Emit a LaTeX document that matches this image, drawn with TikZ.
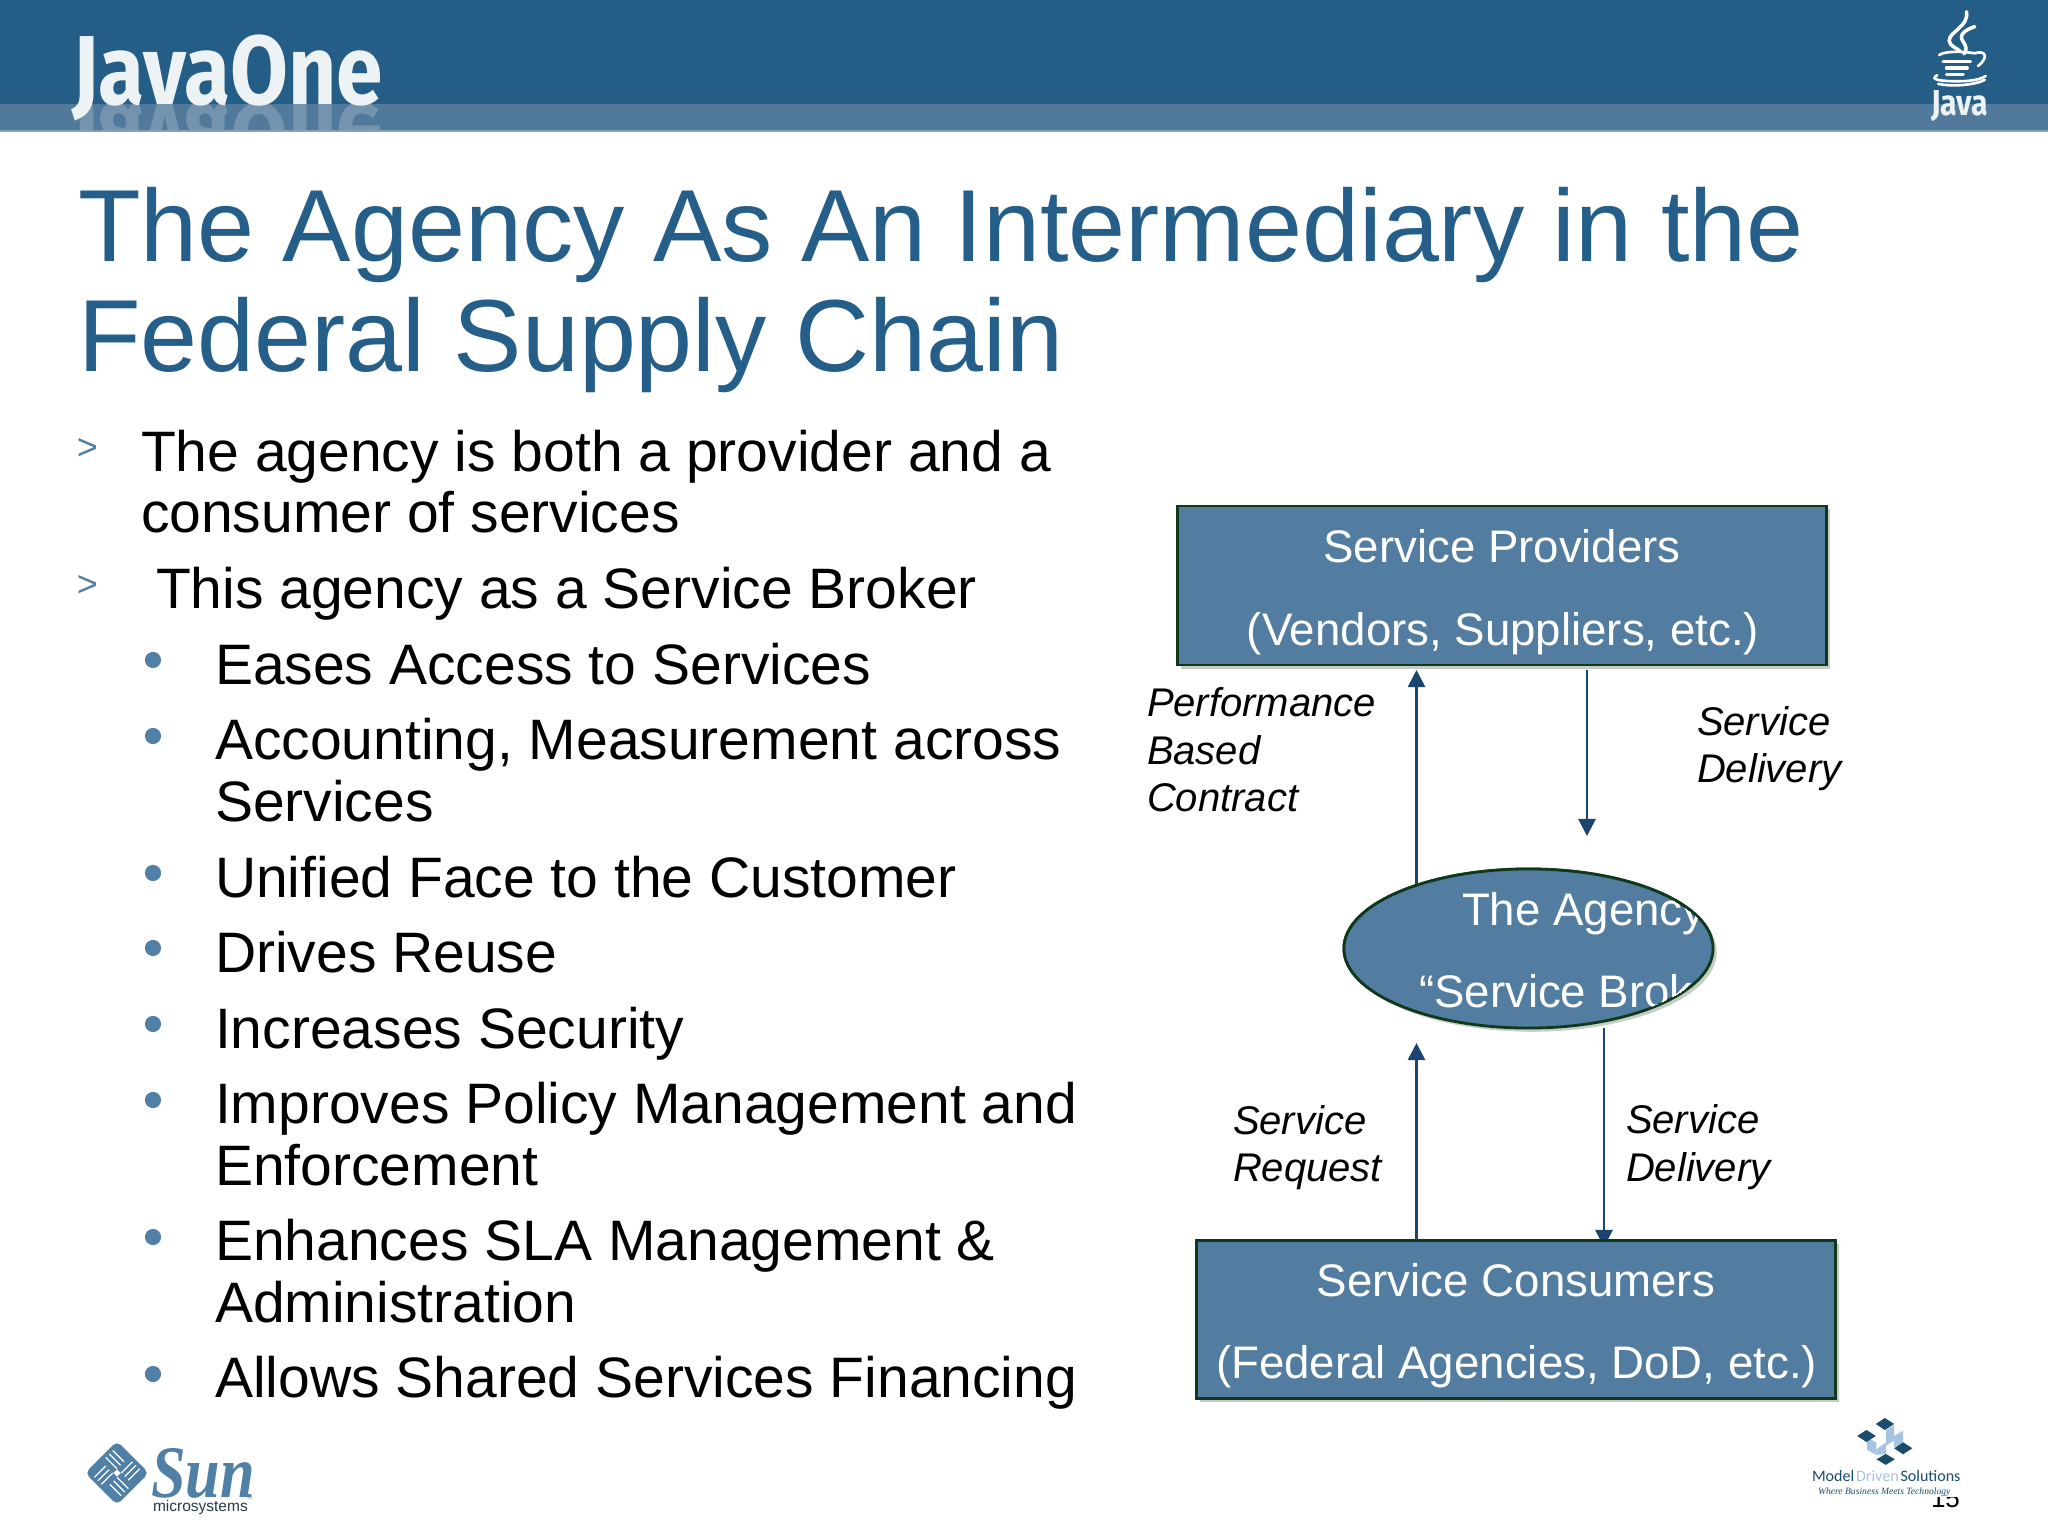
\documentclass[tikz,border=0pt]{standalone}
\usepackage{fontspec}
\setmainfont{Liberation Sans}
\newfontfamily\logofont{Fira Sans}
\newfontfamily\mdsfont{Carlito}
\newfontfamily\serifont{Liberation Serif}
\usetikzlibrary{arrows.meta,shapes.geometric,shadows}
\definecolor{hdr}{HTML}{245D86}
\definecolor{strip}{HTML}{50799C}
\definecolor{titlec}{HTML}{255E89}
\definecolor{boxf}{HTML}{527CA0}
\definecolor{boxl}{HTML}{10391C}
\definecolor{arrc}{HTML}{1B4470}
\definecolor{shad}{HTML}{C4CEC4}
\definecolor{sunc}{HTML}{5180A6}
\definecolor{mdsd}{HTML}{1B4C6B}
\definecolor{mdsl}{HTML}{A6C4E2}
\newcommand{\pxf}[1]{\fontsize{\fpeval{#1*0.28453}}{\fpeval{#1*0.32}}\selectfont}
\tikzset{
  x=0.01cm,y=-0.01cm,
  txt/.style={inner sep=0pt,outer sep=0pt,anchor=base west},
  titletxt/.style={txt,text=titlec,font=\pxf{102.4}},
  bodytxt/.style={txt,text=black,font=\pxf{57}},
  chev/.style={txt,text=sunc,font=\pxf{36}},
  bdot/.style={circle,fill=sunc,draw=none,minimum size=4.6pt,inner sep=0pt},
  shapebox/.style={draw=boxl,line width=0.8pt,fill=boxf,inner sep=0pt,outer sep=0pt,
    drop shadow={shadow xshift=0.035cm,shadow yshift=-0.035cm,fill=shad,opacity=1}},
  boxtxt/.style={inner sep=0pt,outer sep=0pt,anchor=base,text=white,font=\pxf{45.6}},
  lab/.style={txt,text=black,font=\pxf{40}\itshape},
  arr/.style={draw=arrc,line width=0.8pt,-{Triangle[width=4.9pt,length=4.9pt]}},
  steam/.style={draw=white,line width=0.75pt,line cap=round},
}
\begin{document}
\begin{tikzpicture}
\useasboundingbox (0,0) rectangle (2048,1536);
\fill[white] (0,0) rectangle (2048,1536);
% header
\fill[hdr] (0,0) rectangle (2048,104);
\fill[strip] (0,104) rectangle (2048,131);
\fill[strip!70!white] (0,129.5) rectangle (2048,132);
\begin{scope}
\clip (0,104) rectangle (2048,129);
\node[txt,text=white,opacity=0.2,font=\logofont\bfseries\pxf{98},xscale=0.855,yscale=-1] (jrefl) at (72,104) {JavaOne};
\end{scope}
\node[txt,text=white!92!hdr,font=\logofont\bfseries\pxf{98},xscale=0.855] (jlogo) at (72,104) {JavaOne};
% java logo
\begin{scope}[shift={(1850,0)},x=0.00333cm,y=-0.00333cm]
\draw[steam,line width=1pt] (350,35) .. controls (358,80) and (298,95) .. (298,122) .. controls (298,138) and (322,145) .. (332,155);
\draw[steam,line width=1pt] (375,80) .. controls (345,90) and (325,105) .. (340,125) .. controls (350,140) and (352,150) .. (342,162);
\draw[steam] (268,165) .. controls (290,152) and (340,155) .. (375,160) .. controls (405,150) and (420,170) .. (385,198);
\draw[steam,line width=1pt] (280,185) -- (362,185);
\draw[steam,line width=1pt] (290,205) -- (352,205);
\draw[steam,line width=1pt] (290,224) -- (340,224);
\draw[steam] (262,226) .. controls (235,240) and (280,245) .. (330,244) .. controls (365,244) and (395,238) .. (408,228);
\draw[steam] (265,252) .. controls (300,260) and (370,258) .. (405,240);
\end{scope}
\node[txt,text=white!92!hdr,font=\logofont\bfseries\pxf{36},xscale=0.84] (jv) at (1931,115) {Java};
% title
\node[titletxt] (t1) at (78,261) {The Agency As An Intermediary in the};
\node[titletxt] (t2) at (78,371) {Federal Supply Chain};
% body
\node[chev] (c1) at (77,459) {>};
\node[chev] (c2) at (77,596) {>};
\node[bodytxt] (b1) at (141,471) {The agency is both a provider and a};
\node[bodytxt] (b1b) at (141,532) {consumer of services};
\node[bodytxt] (b2) at (156,608) {This agency as a Service Broker};
\foreach \n/\yy in {d1/660,d2/736,d3/873,d4/948,d5/1024,d6/1100,d7/1237,d8/1374}
  \node[bdot] (\n) at (153,\yy) {};
\node[bodytxt] (s1) at (215,684) {Eases Access to Services};
\node[bodytxt] (s2) at (215,759) {Accounting, Measurement across};
\node[bodytxt] (s2b) at (215,821) {Services};
\node[bodytxt] (s3) at (215,897) {Unified Face to the Customer};
\node[bodytxt] (s4) at (215,972) {Drives Reuse};
\node[bodytxt] (s5) at (215,1048) {Increases Security};
\node[bodytxt] (s6) at (215,1123) {Improves Policy Management and};
\node[bodytxt] (s6b) at (215,1185) {Enforcement};
\node[bodytxt] (s7) at (215,1260) {Enhances SLA Management \&};
\node[bodytxt] (s7b) at (215,1322) {Administration};
\node[bodytxt] (s8) at (215,1397) {Allows Shared Services Financing};
% diagram
\node[shapebox,rectangle,minimum width=648*0.2845pt,minimum height=159*0.2845pt] (pv) at (1502,585.5) {};
\coordinate (tipa) at (1416.5,670);
\coordinate (tailb) at (1587,670);
\coordinate (tipb) at (1587,836);
\coordinate (tipc) at (1416.5,1043);
\coordinate (tipd) at (1604,1247);
\node[shapebox,ellipse,minimum width=369*0.2845pt,minimum height=159*0.2845pt] (el) at (1528.5,948.5) {};
\draw[arr] (tipd |- el.south) -- (tipd);
\node[shapebox,rectangle,minimum width=638*0.2845pt,minimum height=158*0.2845pt] (cs) at (1516,1319.5) {};
\draw[arr] (tipa |- el.150) -- (tipa);
\draw[arr] (tailb) -- (tipb);
\draw[arr] (tipc |- cs.north) -- (tipc);
\node[shapebox,ellipse,minimum width=369*0.2845pt,minimum height=159*0.2845pt] (elb) at (1528.5,948.5) {};
\node[boxtxt] (pv1) at (1502,562) {Service Providers};
\node[boxtxt] (pv2) at (1503,645) {(Vendors, Suppliers, etc.)};
\node[boxtxt] (cs1) at (1516,1296) {Service Consumers};
\node[boxtxt] (cs2) at (1516.5,1378) {(Federal Agencies, DoD, etc.)};
\begin{scope}
\clip (1528.5,948.5) ellipse [x radius=183,y radius=78];
\node[boxtxt,anchor=base west] (el1) at (1462,925.5) {The Agency};
\node[boxtxt,anchor=base west] (el2) at (1419,1007.5) {“Service Brok};
\end{scope}
\node[lab] (l1a) at (1147,716) {Performance};
\node[lab] (l1b) at (1147,764) {Based};
\node[lab] (l1c) at (1147,811) {Contract};
\node[lab] (l2a) at (1697,735) {Service};
\node[lab] (l2b) at (1697,782) {Delivery};
\node[lab] (l3a) at (1233,1134) {Service};
\node[lab] (l3b) at (1233,1181) {Request};
\node[lab] (l4a) at (1626,1133) {Service};
\node[lab] (l4b) at (1626,1181) {Delivery};
% sun logo
\begin{scope}[shift={(117,1473)},rotate=45]
\fill[sunc,rounded corners=1.5pt] (-22.5,-22.5) rectangle (22.5,22.5);
\foreach \a in {0,90,180,270}{
 \begin{scope}[rotate=\a]
 \draw[white,line width=0.35pt] (3,-3) -- (3,-19) (8,-3)--(8,-19) (13,-3)--(13,-19);
 \end{scope}}
\fill[white] (-2.5,-2.5) rectangle (2.5,2.5);
\end{scope}
\node[txt,text=sunc,font=\serifont\itshape\bfseries\pxf{74},xscale=0.84] (sun) at (151,1497) {Sun};
\node[txt,text=sunc,font=\pxf{7}] (sunr) at (247,1499) {®};
\node[txt,text=black!55!sunc,font=\pxf{15.5}] (micro) at (153,1511) {microsystems};
% MDS logo
\begin{scope}[shift={(1750,1400)},x=0.00333cm,y=-0.00333cm]
\fill[mdsl] (408,90) -- (433,75) -- (433,122) -- (408,138) -- cycle;
\fill[mdsl] (433,108) -- (460,92) -- (460,128) -- (433,142) -- cycle;
\fill[mdsl] (352,112) -- (380,128) -- (380,165) -- (352,150) -- cycle;
\fill[mdsl] (380,148) -- (408,128) -- (408,162) -- (380,165) -- cycle;
\fill[mdsd] (378,72) -- (405,54) -- (433,72) -- (405,90) -- cycle;
\fill[mdsd] (322,108) -- (350,90) -- (378,108) -- (350,126) -- cycle;
\fill[mdsd] (433,145) -- (460,127) -- (488,145) -- (460,163) -- cycle;
\fill[mdsd] (380,178) -- (408,162) -- (435,178) -- (408,195) -- cycle;
\end{scope}
\node[txt,font=\mdsfont\pxf{16}] (mds) at (1812,1481) {\textcolor{mdsd}{Model}\hspace{0.12em}\textcolor{mdsl}{Driven}\hspace{0.12em}\textcolor{mdsd}{Solutions}};
\node[txt,text=mdsd,font=\serifont\itshape\pxf{9.6}] (tag) at (1818,1494) {Where Business Meets Technology};
\begin{scope}
\clip (1900,1497) rectangle (2000,1520);
\node[txt,text=black,font=\pxf{26}] (pg) at (1931,1507) {15};
\end{scope}
\end{tikzpicture}
\end{document}
